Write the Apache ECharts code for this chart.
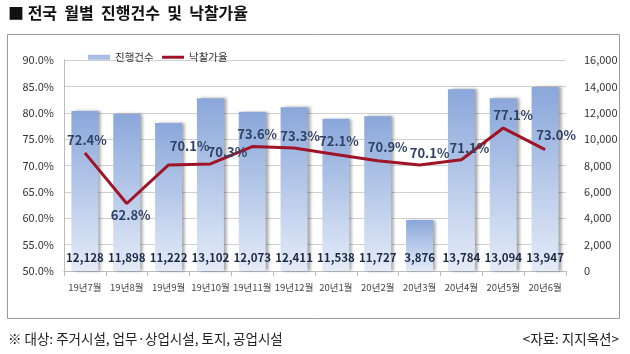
<!DOCTYPE html>
<html><head><meta charset="utf-8">
<script src="https://cdn.jsdelivr.net/npm/echarts@6/dist/echarts.min.js"></script>
<style>html,body{margin:0;padding:0;background:#fff}#c{width:630px;height:354px}</style>
</head><body><div id="c"></div>
<script>
const categories = ['19년7월','19년8월','19년9월','19년10월','19년11월','19년12월','20년1월','20년2월','20년3월','20년4월','20년5월','20년6월'];
const counts = [12128, 11898, 11222, 13102, 12073, 12411, 11538, 11727, 3876, 13784, 13094, 13947];
const rates = [72.4, 62.8, 70.1, 70.3, 73.6, 73.3, 72.1, 70.9, 70.1, 71.1, 77.1, 73.0];
const labelPositions = ['top','bottom','top','top','top','top','top','top','top','top','top','top'];
const labelOffsets = [[2,-1],[4,0],[21,-7],[17,0],[5,-1],[6,-1],[3,-2],[10,-2],[10,0],[8,0],[10,-1],[11,-3]];
const leftTicks = {min:50, max:90, interval:5};
const rightTicks = {min:0, max:16000, interval:2000};

const font = '"Noto Sans CJK KR", "Noto Sans", sans-serif';
const chart = echarts.init(document.getElementById('c'));
const barGrad = new echarts.graphic.LinearGradient(0,0,0,1,[{offset:0,color:'#8aa7da'},{offset:1,color:'#e4ebf8'}]);
chart.setOption({
  animation:false,
  textStyle:{fontFamily:font},
  graphic:[
    {type:'text', left:8, top:5, style:{text:'■ 전국  월별  진행건수  및  낙찰가율', font:'bold 16px '+font, fill:'#111'}},
    {type:'rect', shape:{x:7.5,y:34.5,width:612,height:284}, style:{fill:'none', stroke:'#9a9a9a', lineWidth:1}},
    {type:'text', left:8, top:332, style:{text:'※ 대상: 주거시설, 업무·상업시설, 토지, 공업시설', font:'13.5px '+font, fill:'#222'}},
    {type:'text', right:11, top:332, style:{text:'<자료: 지지옥션>', font:'13.5px '+font, fill:'#222'}}
  ],
  legend:[
    {left:83, top:47, itemWidth:22, itemHeight:5, itemGap:4,
     textStyle:{fontSize:10.5, color:'#333', fontFamily:font},
     data:[{name:'진행건수', icon:'rect', itemStyle:{color:'#a8bde3'}}]},
    {left:157, top:47, itemWidth:22, itemHeight:3, itemGap:4,
     textStyle:{fontSize:10.5, color:'#333', fontFamily:font},
     data:[{name:'낙찰가율', icon:'rect', itemStyle:{color:'#a01428'}}]}
  ],
  grid:{left:64, right:64, top:60, bottom:83},
  xAxis:{
    type:'category', data:categories,
    axisLine:{show:true, lineStyle:{color:'#bbb'}},
    axisTick:{show:true, lineStyle:{color:'#bbb'}},
    axisLabel:{interval:0, hideOverlap:false, fontSize:9.5, color:'#444', margin:12, fontFamily:font}
  },
  yAxis:[
    {type:'value', min:leftTicks.min, max:leftTicks.max, interval:leftTicks.interval,
     axisLine:{show:true, lineStyle:{color:'#bbb'}}, axisTick:{show:false},
     axisLabel:{formatter:v=>v.toFixed(1)+'%', fontSize:11, color:'#333', margin:10},
     splitLine:{lineStyle:{color:'#d0d0d0'}}},
    {type:'value', min:rightTicks.min, max:rightTicks.max, interval:rightTicks.interval,
     axisLine:{show:false}, axisTick:{show:false},
     axisLabel:{formatter:v=>v.toLocaleString('en-US'), fontSize:11, color:'#333', margin:18},
     splitLine:{show:false}}
  ],
  series:[
    {name:'진행건수', type:'bar', yAxisIndex:1, data:counts, barWidth:27,
     itemStyle:{color:barGrad, shadowColor:'rgba(0,0,0,0.35)', shadowBlur:3, shadowOffsetX:3, shadowOffsetY:0},
     label:{show:true, position:'insideBottom', distance:8, formatter:p=>p.value.toLocaleString('en-US'),
            fontSize:11.5, fontWeight:'bold', color:'#1c2a44'}},
    {name:'낙찰가율', type:'line', yAxisIndex:0,
     data:rates.map((v,i)=>({value:v, label:{position:labelPositions[i], offset:labelOffsets[i]}})),
     symbol:'circle', symbolSize:0, showSymbol:true, lineStyle:{color:'#a01428', width:3}, itemStyle:{color:'#a01428'},
     label:{show:true, position:'top', formatter:p=>p.value.toFixed(1)+'%', fontSize:13, fontWeight:'bold', color:'#2e4266'},
     z:5}
  ]
});
</script></body></html>
